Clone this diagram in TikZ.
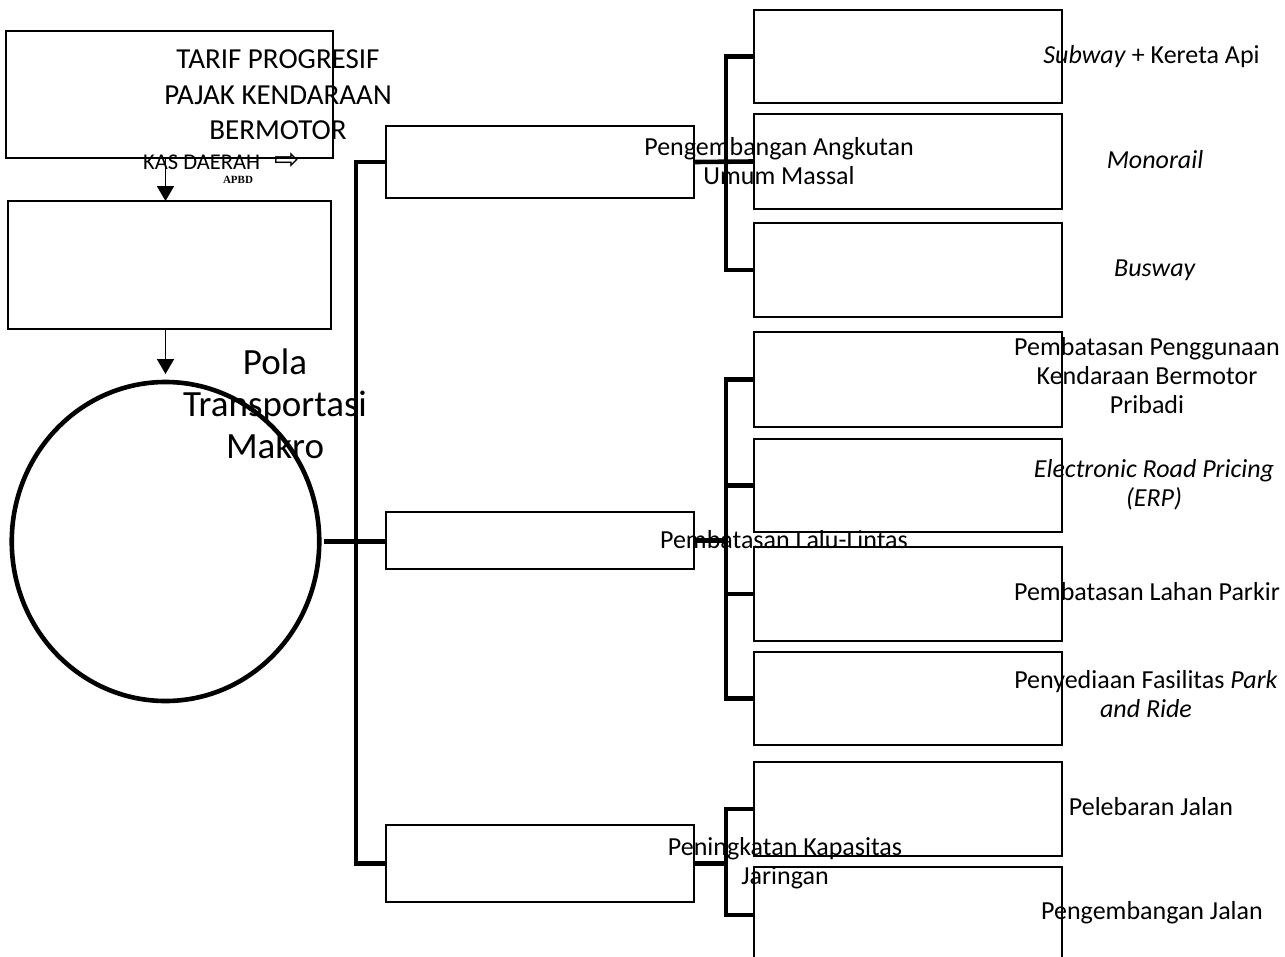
\documentclass[tikz,border=0pt]{standalone}
\usepackage{fontspec}
\setmainfont{Carlito}
\newfontfamily\arrowfont{DejaVu Sans}
\newfontfamily\apbdfont{Liberation Serif}
\usepackage{tikz}
\usetikzlibrary{arrows.meta, positioning, shapes.geometric, calc}
\definecolor{mInk}{HTML}{000000}

\tikzset{
  thinbox/.style={draw=mInk, line width=1.5pt, inner sep=0pt, outer sep=0pt},
  midbox/.style={draw=mInk, line width=1.9pt, inner sep=0pt, outer sep=0pt, minimum width=307.5pt},
  subbox/.style={draw=mInk, line width=2.5pt, inner sep=0pt, outer sep=0pt, minimum width=308pt},
  brace/.style={draw=mInk, line width=4.6pt},
  trunk/.style={draw=mInk, line width=4.2pt},
  arr/.style={draw=mInk, line width=1.9pt, -{Triangle[width=17pt,length=15pt]}},
  lbl/.style={font=\fontsize{26}{29}\selectfont, align=center, inner sep=0pt}
}

\begin{document}
\begin{tikzpicture}[x=1pt, y=-1pt]
    \useasboundingbox (0,0) rectangle (1285,956);
    % left column
    \node[thinbox, minimum width=327pt, minimum height=127pt] (tarif) at (169.5,94.5) {};
    \node[thinbox, minimum width=323pt, minimum height=128pt] (kas) at (169.5,265) {};
    \node[draw=mInk, ellipse, line width=4.6pt, inner sep=0pt, outer sep=0pt,
      minimum width=307.5pt, minimum height=319pt] (pola) at (165.5,541.5) {};
    \draw[arr] (tarif.south -| pola.north) -- (kas.north -| pola.north);
    \draw[arr, shorten >=8pt] (kas.south -| pola.north) -- (pola.north);

    % middle column
    \foreach \nm/\cy/\h in {m1/162/72, m2/540.5/57, m3/863.5/77}
      \node[midbox, minimum height=\h pt] (\nm) at (540,\cy) {};

    % right column
    \foreach \nm/\cy/\h in {r1/56.5/93, r2/161.5/95, r3/270/94, r4/379.5/95, r5/485.5/93,
      r6/594/94, r7/698.5/93, r8/809/94, r9/915/96}
      \node[subbox, minimum height=\h pt] (\nm) at (908,\cy) {};

    % connectors
    \coordinate (t) at ([xshift=-30pt]m3.west);
    \draw[trunk] (pola.east) ++(5,0) -- (pola.east -| m2.west);
    \draw[trunk] (m1.west) -| (t) -- (m3.west);
    \coordinate (j1) at ([xshift=-28pt]r3.west);
    \coordinate (j2) at ([xshift=-28pt]r7.west);
    \coordinate (j3) at ([xshift=-28pt]r9.west);
    \draw[brace] (r1.west) -| (j1) -- (r3.west);
    \draw[brace] (m1.east) -- (r2.west);
    \draw[brace] (r4.west) -| (j2) -- (r7.west);
    \draw[brace] (r5.west) -- (r5.west -| j2);
    \draw[brace] (r6.west) -- (r6.west -| j2);
    \draw[brace] (m2.east) -- (m2.east -| j2);
    \draw[brace] (r8.west) -| (j3) -- (r9.west);
    \draw[brace] (m3.east) -- (m3.east -| j3);

    % texts
    \node[align=center, inner sep=0pt, font=\fontsize{29}{35.5}\selectfont] (tariftxt) at (278,95)
      {TARIF PROGRESIF\\PAJAK KENDARAAN\\BERMOTOR};
    \node[anchor=base west, inner sep=0pt, font=\fontsize{22.5}{26}\selectfont] (kastxt) at (143,169)
      {KAS DAERAH\hspace{14pt}{\arrowfont\fontsize{30}{26}\selectfont ⇨}};
    \node[anchor=base, inner sep=0pt, font=\apbdfont\bfseries\fontsize{11}{13}\selectfont] (apbd) at (238,183) {APBD};
    \node[align=center, inner sep=0pt, font=\fontsize{37}{42}\selectfont] (polatxt) at (275,404)
      {Pola\\Transportasi\\Makro};

    \node[lbl] (m1txt) at (779,161) {Pengembangan Angkutan\\Umum Massal};
    \node[lbl, anchor=base] (m2txt) at (784,548) {Pembatasan Lalu-Lintas};
    \node[lbl] (m3txt) at (785,863) {Peningkatan Kapasitas\\Jaringan};

    \node[lbl, anchor=base] (r1txt) at (1151.5,63) {\textit{Subway} + Kereta Api};
    \node[lbl, anchor=base] (r2txt) at (1155,168) {\textit{Monorail}};
    \node[lbl, anchor=base] (r3txt) at (1155,276) {\textit{Busway}};
    \node[lbl] (r4txt) at (1147,376) {Pembatasan Penggunaan\\Kendaraan Bermotor\\Pribadi};
    \node[lbl] (r5txt) at (1154,485) {\textit{Electronic Road Pricing}\\\textit{(ERP)}};
    \node[lbl, anchor=base] (r6txt) at (1147,600) {Pembatasan Lahan Parkir};
    \node[lbl] (r7txt) at (1146,694) {Penyediaan Fasilitas \textit{Park}\\\textit{and Ride}};
    \node[lbl, anchor=base] (r8txt) at (1151,815) {Pelebaran Jalan};
    \node[lbl, anchor=base] (r9txt) at (1152,919) {Pengembangan Jalan};
\end{tikzpicture}
\end{document}
